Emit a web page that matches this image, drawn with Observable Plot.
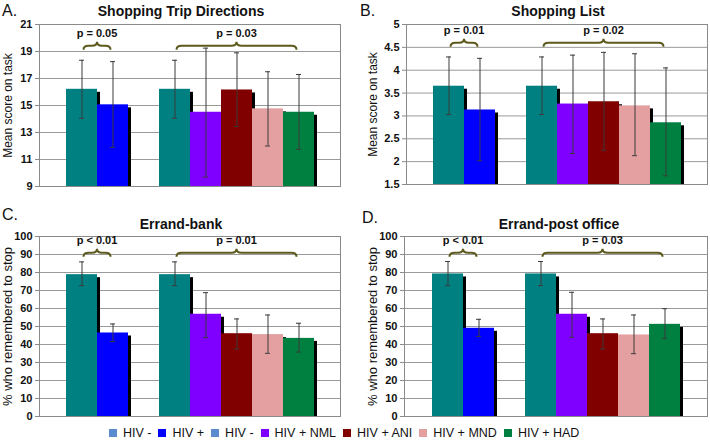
<!DOCTYPE html>
<html>
<head>
<meta charset="utf-8">
<script src="https://cdn.jsdelivr.net/npm/d3@7"></script>
<script src="https://cdn.jsdelivr.net/npm/@observablehq/plot@0.6"></script>
<style>
  html, body { margin: 0; padding: 0; background: #fff; }
  #root { position: relative; width: 710px; height: 445px; overflow: hidden; font-family: "Liberation Sans", Arial, sans-serif; color: #111; }
  .panel { position: absolute; }
  .title { position: absolute; font-weight: bold; font-size: 14px; transform: translate(-50%, -50%); white-space: nowrap; }
  .letter { position: absolute; font-size: 16px; transform: translateY(-50%); }
  #legend { position: absolute; left: 109px; top: 426px; height: 14px; display: flex; align-items: center; font-size: 12.5px; white-space: nowrap; }
  #legend .sw { width: 8px; height: 8px; margin-right: 6px; }
  #legend .it { display: flex; align-items: center; margin-right: 7px; }
</style>
</head>
<body>
<div id="root"></div>
<script>
// ---------- data ----------
const slots = ["g1-neg", "g1-pos", "gap", "g2-neg", "g2-nml", "g2-ani", "g2-mnd", "g2-had"];
const barSlots = ["g1-neg", "g1-pos", "g2-neg", "g2-nml", "g2-ani", "g2-mnd", "g2-had"];
const barColors = ["#008080", "#0000ff", "#008080", "#8000ff", "#800000", "#e4a0a0", "#008040"];

const legendLabels = ["HIV -", "HIV +", "HIV -", "HIV + NML", "HIV + ANI", "HIV + MND", "HIV + HAD"];
const legendColors = ["#5b8cd0", "#0000ff", "#5b8cd0", "#8000ff", "#800000", "#e4a0a0", "#008040"];

const meanA = [16.2, 15.05, 16.2, 14.5, 16.15, 14.75, 14.5];
const lowA  = [14.05, 11.9, 14.05, 9.7, 13.45, 12.0, 11.75];
const highA = [18.35, 18.25, 18.35, 19.25, 18.9, 17.5, 17.3];

const meanB = [3.65, 3.13, 3.65, 3.26, 3.31, 3.22, 2.85];
const lowB  = [3.03, 2.02, 3.03, 2.18, 2.25, 2.13, 1.69];
const highB = [4.29, 4.26, 4.29, 4.33, 4.39, 4.36, 4.05];

const meanC = [78.8, 46.4, 78.8, 56.8, 46.0, 45.5, 43.4];
const lowC  = [72.7, 41.7, 72.7, 43.8, 37.5, 35.1, 35.8];
const highC = [85.9, 51.4, 85.9, 68.8, 54.2, 56.4, 51.8];

const meanD = [79.2, 49.0, 79.2, 56.8, 46.0, 45.3, 51.2];
const lowD  = [72.7, 44.5, 72.7, 44.0, 37.5, 34.9, 43.4];
const highD = [86.1, 54.0, 86.1, 69.0, 54.2, 56.4, 59.9];

const ticksA = [9, 11, 13, 15, 17, 19, 21];
const ticksB = [1.5, 2, 2.5, 3, 3.5, 4, 4.5, 5];
const ticksCD = [0, 10, 20, 30, 40, 50, 60, 70, 80, 90, 100];

const braceGroups = [["g1-neg", "g1-pos"], ["g2-neg", "g2-had"]];
const pA = ["p = 0.05", "p = 0.03"];
const pB = ["p = 0.01", "p = 0.02"];
const pC = ["p < 0.01", "p = 0.01"];
const pD = ["p < 0.01", "p = 0.03"];
const braceLevel = {A: 19.1, B: 4.5, C: 88.5, D: 88.5};

const titles = {A: "Shopping Trip Directions", B: "Shopping List", C: "Errand-bank", D: "Errand-post office"};
const yLabels = {A: "Mean score on task", B: "Mean score on task", C: "% who remembered to stop", D: "% who remembered to stop"};

// ---------- helpers ----------
const NS = "http://www.w3.org/2000/svg";
const braceColor = "#5e5a1e";

function braceMark(labels, level) {
  return (index, scales) => {
    const x = scales.x, y = scales.y;
    const bw = x.bandwidth ? x.bandwidth() : 0;
    const g = document.createElementNS(NS, "g");
    braceGroups.forEach(([from, to], i) => {
      const xs = x(from) + bw / 2 + 2, xe = x(to) + bw / 2 - 2, xm = (xs + xe) / 2;
      const y0 = y(level), h = 8, r = 5, ym = y0 - h / 2;
      const p = document.createElementNS(NS, "path");
      p.setAttribute("d",
        `M${xs},${y0} Q${xs},${ym} ${xs + r},${ym} L${xm - r},${ym} Q${xm},${ym} ${xm},${y0 - h}` +
        ` Q${xm},${ym} ${xm + r},${ym} L${xe - r},${ym} Q${xe},${ym} ${xe},${y0}`);
      p.setAttribute("fill", "none");
      p.setAttribute("stroke", braceColor);
      p.setAttribute("stroke-width", "2");
      g.appendChild(p);
      const t = document.createElementNS(NS, "text");
      t.setAttribute("x", xm);
      t.setAttribute("y", y0 - 13);
      t.setAttribute("text-anchor", "middle");
      t.setAttribute("font-size", "11");
      t.setAttribute("font-weight", "bold");
      t.setAttribute("fill", "#111");
      t.textContent = labels[i];
      g.appendChild(t);
    });
    return g;
  };
}

function panel(cfg) {
  const rows = barSlots.map((s, i) => ({slot: s, color: barColors[i], mean: cfg.mean[i], low: cfg.low[i], high: cfg.high[i]}));
  const base = cfg.domain[0];
  const chart = Plot.plot({
    width: 355,
    height: cfg.height,
    marginTop: cfg.mt, marginBottom: cfg.mb, marginLeft: cfg.ml, marginRight: cfg.mr,
    style: {fontFamily: "Liberation Sans, Arial, sans-serif", background: "transparent", color: "#111", overflow: "visible"},
    x: {domain: slots, paddingInner: 0, paddingOuter: 0.75, axis: null},
    y: {domain: cfg.domain, axis: null},
    marks: [
      Plot.ruleY(cfg.ticks, {stroke: "#9a9a9a", strokeWidth: 1}),
      Plot.barY(rows, {x: "slot", y1: base, y2: "mean", fill: "#000", dx: 3, insetTop: 3}),
      Plot.barY(rows, {x: "slot", y1: base, y2: "mean", fill: "color"}),
      Plot.frame({stroke: "#8a8a8a", strokeWidth: 1}),
      Plot.axisY({ticks: cfg.ticks, tickFormat: d => String(d), tickSize: 4, tickPadding: 3,
                  fontSize: 11, fontWeight: "bold", stroke: "#8a8a8a", fill: "#111", label: null}),
      Plot.ruleX(rows, {x: "slot", y1: "low", y2: "high", stroke: "#3a3a3a", strokeWidth: 1}),
      Plot.tickY(rows, {x: "slot", y: "low", stroke: "#3a3a3a", insetLeft: 13, insetRight: 13}),
      Plot.tickY(rows, {x: "slot", y: "high", stroke: "#3a3a3a", insetLeft: 13, insetRight: 13}),
      braceMark(cfg.p, cfg.level),
      Plot.text([cfg.ylabel], {text: d => d, frameAnchor: "left", textAnchor: "middle", rotate: -90,
                               dx: cfg.ldx, fontSize: cfg.lfs, fill: "#111"})
    ]
  });
  const div = document.createElement("div");
  div.className = "panel";
  div.style.left = cfg.left + "px";
  div.style.top = cfg.top + "px";
  div.appendChild(chart);
  root.appendChild(div);

  const t = document.createElement("div");
  t.className = "title";
  t.textContent = cfg.title;
  t.style.left = cfg.tx + "px";
  t.style.top = cfg.ty + "px";
  root.appendChild(t);

  const l = document.createElement("div");
  l.className = "letter";
  l.textContent = cfg.letter;
  l.style.left = cfg.lx + "px";
  l.style.top = cfg.ly + "px";
  root.appendChild(l);
}

const root = document.getElementById("root");

panel({left: 0, top: 0, height: 200, mt: 24, mb: 14, ml: 39, mr: 15, domain: [9, 21], ticks: ticksA,
       mean: meanA, low: lowA, high: highA, p: pA, level: braceLevel.A, ylabel: yLabels.A, ldx: -31, lfs: 12,
       title: titles.A, tx: 181, ty: 11, letter: "A.", lx: 2, ly: 11});
panel({left: 355, top: 0, height: 200, mt: 24, mb: 16, ml: 51, mr: 3, domain: [1.5, 5], ticks: ticksB,
       mean: meanB, low: lowB, high: highB, p: pB, level: braceLevel.B, ylabel: yLabels.B, ldx: -33, lfs: 12,
       title: titles.B, tx: 558, ty: 11, letter: "B.", lx: 360, ly: 11});
panel({left: 0, top: 205, height: 215, mt: 31, mb: 4, ml: 39, mr: 15, domain: [0, 100], ticks: ticksCD,
       mean: meanC, low: lowC, high: highC, p: pC, level: braceLevel.C, ylabel: yLabels.C, ldx: -32, lfs: 13,
       title: titles.C, tx: 181, ty: 224, letter: "C.", lx: 2, ly: 215});
panel({left: 355, top: 205, height: 215, mt: 31, mb: 4, ml: 49, mr: 3, domain: [0, 100], ticks: ticksCD,
       mean: meanD, low: lowD, high: highD, p: pD, level: braceLevel.D, ylabel: yLabels.D, ldx: -32, lfs: 13,
       title: titles.D, tx: 559, ty: 224, letter: "D.", lx: 362, ly: 218});

// legend
const legend = document.createElement("div");
legend.id = "legend";
legendLabels.forEach((lab, i) => {
  const it = document.createElement("div");
  it.className = "it";
  const sw = document.createElement("div");
  sw.className = "sw";
  sw.style.background = legendColors[i];
  const tx = document.createElement("span");
  tx.textContent = lab;
  it.appendChild(sw);
  it.appendChild(tx);
  legend.appendChild(it);
});
root.appendChild(legend);
</script>
</body>
</html>
